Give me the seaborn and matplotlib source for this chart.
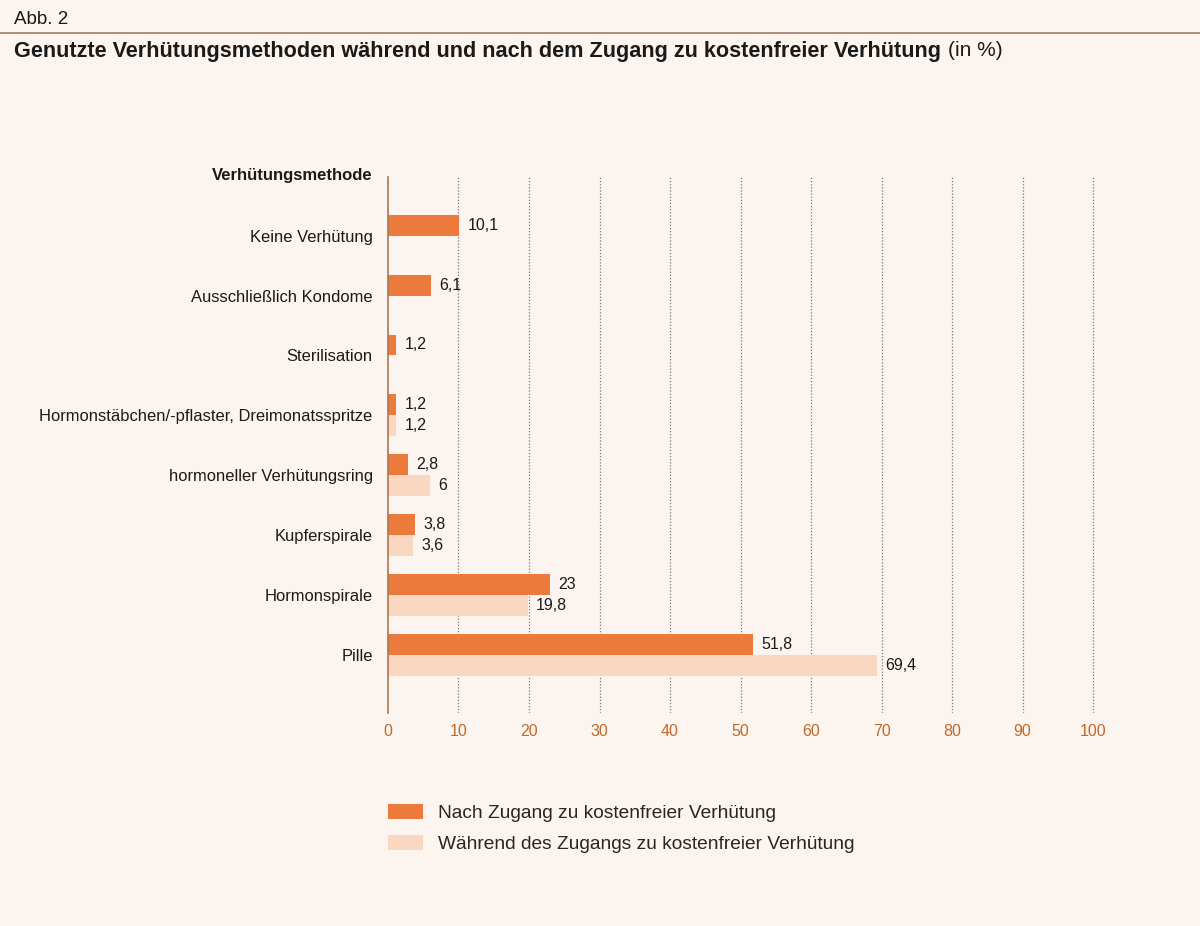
import numpy as np
import pandas as pd
import matplotlib
matplotlib.use("Agg")
import matplotlib.pyplot as plt
from matplotlib.patches import Patch
import seaborn as sns

categories = ["Keine Verhütung", "Ausschließlich Kondome", "Sterilisation",
              "Hormonstäbchen/-pflaster, Dreimonatsspritze",
              "hormoneller Verhütungsring", "Kupferspirale", "Hormonspirale", "Pille"]
series_names = ["Nach Zugang zu kostenfreier Verhütung",
                "Während des Zugangs zu kostenfreier Verhütung"]
nach_values = [10.1, 6.1, 1.2, 1.2, 2.8, 3.8, 23, 51.8]
waehrend_values = [np.nan, np.nan, np.nan, 1.2, 6, 3.6, 19.8, 69.4]
x_ticks = [0, 10, 20, 30, 40, 50, 60, 70, 80, 90, 100]

BG = "#FCF4EE"
DARK = "#EC7A3C"
LIGHT = "#FAD7C0"
AXIS = "#A8774F"
TICK = "#C0692A"
TXT = "#1A1A1A"

sns.set_theme(style="white")
plt.rcParams["font.family"] = ["Liberation Sans", "DejaVu Sans"]

df = pd.DataFrame({
    "Methode": categories * 2,
    "Serie": [series_names[0]] * len(categories) + [series_names[1]] * len(categories),
    "Wert": nach_values + waehrend_values,
})

XMAX = 100.3
px_per_unit = (1093 - 388) / 100
fig = plt.figure(figsize=(12, 9.26), dpi=100, facecolor=BG)
ax = fig.add_axes([388 / 1200, 1 - 713 / 926, XMAX * px_per_unit / 1200, (713 - 177) / 926])
ax.set_facecolor(BG)

sns.barplot(data=df, y="Methode", x="Wert", hue="Serie", order=categories,
            hue_order=series_names, palette=[DARK, LIGHT], orient="h",
            width=0.7, saturation=1, ax=ax, legend=False, errorbar=None,
            linewidth=0, edgecolor="none")

ax.set_xlim(0, XMAX)
ax.set_ylim(7.97, -0.98)
ax.set_xticks(x_ticks)
ax.set_xticklabels([str(t) for t in x_ticks], color=TICK, fontsize=11.5)
ax.tick_params(axis="x", length=0, pad=8)
ax.tick_params(axis="y", length=0, pad=11, labelsize=11.9, labelcolor=TXT)
ax.set_xlabel("")
ax.set_ylabel("")

for s in ["top", "right", "bottom"]:
    ax.spines[s].set_visible(False)
ax.spines["left"].set_color(AXIS)
ax.spines["left"].set_linewidth(1.2)

ax.xaxis.grid(True, linestyle=(0, (1, 1.5)), color="#7A7A7A", linewidth=0.9)
ax.set_axisbelow(True)
ax.get_xgridlines()[0].set_visible(False)

def fmt(v):
    if float(v).is_integer():
        return str(int(v))
    return f"{v:.1f}".replace(".", ",")

for cont in ax.containers:
    labels = []
    for p in cont:
        w = p.get_width()
        labels.append(fmt(w) if np.isfinite(w) and w > 0 else "")
    ax.bar_label(cont, labels=labels, padding=6, fontsize=11.5, color=TXT)

# header for category axis
ax.text(-15 / px_per_unit, -1.0, "Verhütungsmethode", ha="right", va="center",
        fontsize=12, fontweight="bold", color=TXT)

# top labels and rule
fig.text(14 / 1200, 1 - 20 / 926, "Abb. 2", ha="left", va="center", fontsize=13.5, color=TXT)
fig.add_artist(plt.Line2D([0, 1], [1 - 33 / 926, 1 - 33 / 926], color="#A07A66", linewidth=1.2))
t = fig.text(14 / 1200, 1 - 51 / 926,
             "Genutzte Verhütungsmethoden während und nach dem Zugang zu kostenfreier Verhütung",
             ha="left", va="center", fontsize=15.6, fontweight="bold", color=TXT)
fig.canvas.draw()
bb = t.get_window_extent()
fig.text((bb.x1 + 7) / 1200, 1 - 51 / 926, "(in %)", ha="left", va="center",
         fontsize=15, color=TXT)

# legend
handles = [Patch(facecolor=DARK, edgecolor="none"), Patch(facecolor=LIGHT, edgecolor="none")]
fig.legend(handles, series_names, loc="upper left",
           bbox_to_anchor=(388 / 1200, 1 - 804 / 926), frameon=False,
           fontsize=13.75, handlelength=1.85, handleheight=0.8, handletextpad=0.75,
           labelspacing=0.68, borderpad=0, borderaxespad=0)

fig.savefig("out.png", dpi=100, facecolor=BG)
